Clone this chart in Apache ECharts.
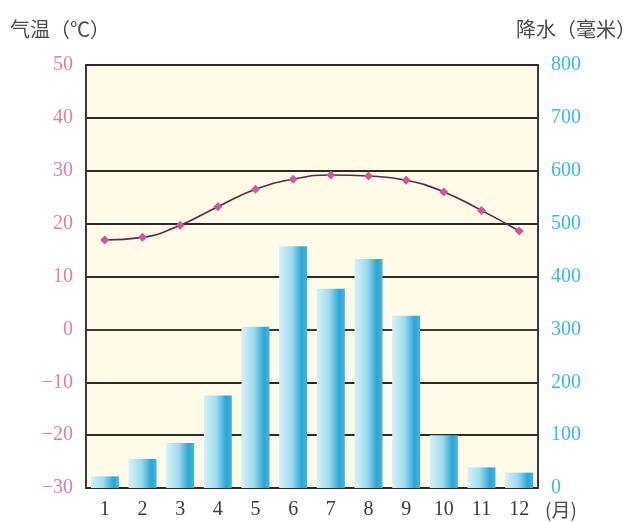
<!DOCTYPE html>
<html>
<head>
<meta charset="utf-8">
<script src="https://cdn.jsdelivr.net/npm/echarts@6/dist/echarts.min.js"></script>
<style>
html,body{margin:0;padding:0;background:#fff;}
#c{width:640px;height:522px;}
</style>
</head>
<body>
<div id="c"></div>
<script>
var months = ['1','2','3','4','5','6','7','8','9','10','11','12'];
var temperature = [16.9, 17.4, 19.7, 23.2, 26.5, 28.4, 29.2, 29.0, 28.2, 26.0, 22.5, 18.6];
var precipitation = [22, 55, 85, 175, 305, 457, 377, 433, 326, 100, 39, 29];
var tempTicks = [-30, 50, 10];
var precTicks = [0, 800, 100];

var chart = echarts.init(document.getElementById('c'));
var numFont = '"Liberation Serif", "DejaVu Serif", serif';
chart.setOption({
  animation: false,
  backgroundColor: '#ffffff',
  grid: {left: 86, right: 102, top: 65, bottom: 34, show: true, backgroundColor: '#fffbe8', borderColor: '#3a3a3a', borderWidth: 2},
  graphic: [
    {type: 'text', left: 10, top: 19, style: {text: '气温（℃）', font: '20px "Noto Sans CJK SC"', fill: '#4a4a4a'}},
    {type: 'text', right: 4, top: 19, style: {text: '降水（毫米）', font: '20px "Noto Sans CJK SC"', fill: '#4a4a4a'}},
    {type: 'text', left: 545, top: 500, style: {text: '(月)', font: '19px "Noto Sans CJK SC"', fill: '#4a4a4a'}}
  ],
  xAxis: {
    type: 'category',
    data: months,
    axisLine: {lineStyle: {color: '#3a3a3a', width: 2}},
    axisTick: {show: false},
    axisLabel: {color: '#3a3a3a', fontFamily: numFont, fontSize: 20, margin: 12}
  },
  yAxis: [
    {
      type: 'value', min: tempTicks[0], max: tempTicks[1], interval: tempTicks[2],
      axisLine: {show: true, lineStyle: {color: '#3a3a3a', width: 2}},
      axisTick: {show: false},
      splitLine: {lineStyle: {color: '#2a2a2a', width: 2}},
      axisLabel: {color: '#d483b0', fontFamily: numFont, fontSize: 20, margin: 13,
        formatter: function (v) { return String(v).replace('-', '\u2212'); }}
    },
    {
      type: 'value', min: precTicks[0], max: precTicks[1], interval: precTicks[2],
      position: 'right',
      axisLine: {show: true, lineStyle: {color: '#3a3a3a', width: 2}},
      axisTick: {show: false},
      splitLine: {show: false},
      axisLabel: {color: '#3fb8d8', fontFamily: numFont, fontSize: 20, margin: 13}
    }
  ],
  series: [
    {
      type: 'bar',
      yAxisIndex: 1,
      data: precipitation,
      barWidth: 28,
      itemStyle: {
        color: new echarts.graphic.LinearGradient(0, 0, 1, 0, [
          {offset: 0, color: '#d6f1f9'},
          {offset: 0.45, color: '#9edbef'},
          {offset: 0.8, color: '#2aa6d6'},
          {offset: 1, color: '#48b4dc'}
        ])
      },
      z: 2
    },
    {
      type: 'line',
      data: temperature,
      smooth: true,
      symbol: 'diamond',
      symbolSize: 9,
      lineStyle: {color: '#5a2844', width: 1.6},
      itemStyle: {color: '#cc5a96'},
      z: 3
    }
  ]
});
</script>
</body>
</html>
